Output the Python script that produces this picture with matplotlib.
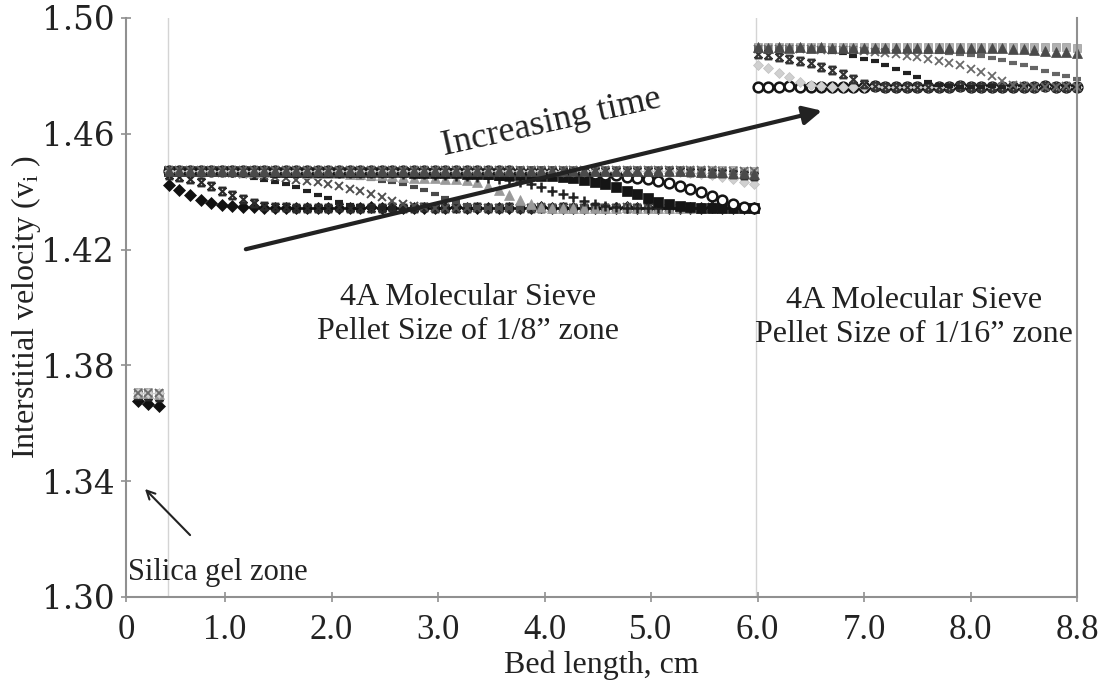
import matplotlib
matplotlib.use("Agg")
import matplotlib.pyplot as plt
from matplotlib.path import Path

# bed positions (axis units; the "8.8" tick sits at 9)
x_sg = [0.18, 0.28, 0.38]
x_z8 = [0.47, 0.57, 0.67, 0.77, 0.87, 0.97, 1.07, 1.17,
        1.27, 1.37, 1.47, 1.57, 1.67, 1.77, 1.87, 1.97,
        2.07, 2.17, 2.27, 2.37, 2.47, 2.57, 2.67, 2.77,
        2.87, 2.97, 3.07, 3.17, 3.27, 3.37, 3.47, 3.57,
        3.67, 3.77, 3.87, 3.97, 4.07, 4.17, 4.27, 4.37,
        4.47, 4.57, 4.67, 4.77, 4.87, 4.97, 5.07, 5.17,
        5.27, 5.37, 5.47, 5.57, 5.67, 5.77, 5.87, 5.97]
x_z16 = [6.0, 6.1, 6.2, 6.3, 6.4, 6.5, 6.6, 6.7,
         6.8, 6.9, 7.0, 7.1, 7.2, 7.3, 7.4, 7.5,
         7.6, 7.7, 7.8, 7.9, 8.0, 8.1, 8.2, 8.3,
         8.4, 8.5, 8.6, 8.7, 8.8, 8.9, 9.0]

xtick_pos = [0.07, 1, 2, 3, 4, 5, 6, 7, 8, 9]
xtick_labels = ["0", "1.0", "2.0", "3.0", "4.0", "5.0", "6.0", "7.0", "8.0", "8.8"]
yticks = [1.30, 1.34, 1.38, 1.42, 1.46, 1.50]
zone_edges = [0.46, 5.99]

# silica gel zone
dia_sg = [1.3678, 1.3667, 1.3660]
star1_sg = [1.3697, 1.3694, 1.3692]
tri1_sg = [1.3703, 1.3703, 1.3702]
dia2_sg = [1.3706, 1.3705, 1.3705]
xs2_sg = [1.3705, 1.3704, 1.3704]
sq2_sg = [1.3707, 1.3707, 1.3706]

# 1/8" zone
dia_z8 = [1.4423, 1.4406, 1.4389, 1.4373, 1.4360, 1.4353, 1.4349, 1.4347,
          1.4346, 1.4345, 1.4345, 1.4345, 1.4344, 1.4345, 1.4345, 1.4344,
          1.4345, 1.4344, 1.4345, 1.4346, 1.4345, 1.4344, 1.4345, 1.4345,
          1.4345, 1.4344, 1.4345, 1.4346, 1.4345, 1.4344, 1.4345, 1.4345,
          1.4345, 1.4344, 1.4345, 1.4346, 1.4345, 1.4344, 1.4345, 1.4345,
          1.4345, 1.4344, 1.4345, 1.4346, 1.4345, 1.4344, 1.4345, 1.4345,
          1.4345, 1.4344, 1.4345, 1.4346, 1.4345, 1.4344, 1.4345, 1.4345]
star1_z8 = [1.4458, 1.4452, 1.4443, 1.4432, 1.4420, 1.4404, 1.4389, 1.4374,
            1.4360, 1.4351, 1.4347, 1.4346, 1.4345, 1.4345, 1.4344, 1.4345,
            1.4346, 1.4345, 1.4344, 1.4345, 1.4345, 1.4346, 1.4345, 1.4344,
            1.4346, 1.4345, 1.4344, 1.4345, 1.4345, 1.4346, 1.4345, 1.4344,
            1.4346, 1.4345, 1.4344, 1.4345, 1.4345, 1.4346, 1.4345, 1.4344,
            1.4346, 1.4345, 1.4344, 1.4345, 1.4345, 1.4346, 1.4345, 1.4344,
            1.4346, 1.4345, 1.4344, 1.4345, 1.4345, 1.4346, 1.4345, 1.4344]
dash1_z8 = [1.4468, 1.4467, 1.4466, 1.4464, 1.4462, 1.4460, 1.4457, 1.4453,
            1.4448, 1.4442, 1.4435, 1.4426, 1.4415, 1.4403, 1.4390, 1.4377,
            1.4365, 1.4355, 1.4349, 1.4346, 1.4345, 1.4345, 1.4344, 1.4345,
            1.4345, 1.4344, 1.4345, 1.4346, 1.4345, 1.4344, 1.4345, 1.4345,
            1.4345, 1.4344, 1.4345, 1.4346, 1.4345, 1.4344, 1.4345, 1.4345,
            1.4345, 1.4344, 1.4345, 1.4346, 1.4345, 1.4344, 1.4345, 1.4345,
            1.4345, 1.4344, 1.4345, 1.4346, 1.4345, 1.4344, 1.4345, 1.4345]
xs1_z8 = [1.4470, 1.4469, 1.4469, 1.4468, 1.4467, 1.4466, 1.4464, 1.4462,
          1.4459, 1.4454, 1.4450, 1.4446, 1.4442, 1.4437, 1.4432, 1.4426,
          1.4419, 1.4411, 1.4402, 1.4392, 1.4380, 1.4369, 1.4358, 1.4350,
          1.4346, 1.4345, 1.4345, 1.4344, 1.4345, 1.4345, 1.4344, 1.4345,
          1.4345, 1.4344, 1.4345, 1.4346, 1.4345, 1.4344, 1.4345, 1.4345,
          1.4345, 1.4344, 1.4345, 1.4346, 1.4345, 1.4344, 1.4345, 1.4345,
          1.4345, 1.4344, 1.4345, 1.4346, 1.4345, 1.4344, 1.4345, 1.4345]
dash2_z8 = [1.4471, 1.4470, 1.4470, 1.4469, 1.4469, 1.4468, 1.4468, 1.4467,
            1.4467, 1.4466, 1.4465, 1.4464, 1.4463, 1.4461, 1.4459, 1.4457,
            1.4454, 1.4451, 1.4447, 1.4443, 1.4438, 1.4432, 1.4425, 1.4416,
            1.4405, 1.4392, 1.4378, 1.4364, 1.4353, 1.4347, 1.4345, 1.4344,
            1.4345, 1.4344, 1.4345, 1.4346, 1.4345, 1.4344, 1.4345, 1.4345,
            1.4345, 1.4344, 1.4345, 1.4346, 1.4345, 1.4344, 1.4345, 1.4345,
            1.4345, 1.4344, 1.4345, 1.4346, 1.4345, 1.4344, 1.4345, 1.4345]
tri1_z8 = [1.4472, 1.4472, 1.4471, 1.4471, 1.4470, 1.4470, 1.4470, 1.4469,
           1.4469, 1.4468, 1.4468, 1.4467, 1.4467, 1.4466, 1.4465, 1.4464,
           1.4463, 1.4462, 1.4460, 1.4458, 1.4456, 1.4453, 1.4451, 1.4449,
           1.4447, 1.4446, 1.4445, 1.4443, 1.4440, 1.4432, 1.4420, 1.4405,
           1.4390, 1.4372, 1.4356, 1.4348, 1.4345, 1.4345, 1.4344, 1.4345,
           1.4345, 1.4344, 1.4345, 1.4346, 1.4345, 1.4344, 1.4345, 1.4345,
           1.4345, 1.4344, 1.4345, 1.4346, 1.4345, 1.4344, 1.4345, 1.4345]
plus1_z8 = [1.4471, 1.4471, 1.4471, 1.4470, 1.4470, 1.4470, 1.4469, 1.4469,
            1.4469, 1.4469, 1.4468, 1.4468, 1.4468, 1.4467, 1.4467, 1.4467,
            1.4466, 1.4466, 1.4465, 1.4465, 1.4464, 1.4463, 1.4462, 1.4461,
            1.4460, 1.4459, 1.4457, 1.4455, 1.4453, 1.4451, 1.4448, 1.4445,
            1.4441, 1.4434, 1.4425, 1.4415, 1.4404, 1.4392, 1.4380, 1.4368,
            1.4357, 1.4350, 1.4346, 1.4345, 1.4344, 1.4345, 1.4345, 1.4344,
            1.4345, 1.4344, 1.4345, 1.4346, 1.4345, 1.4344, 1.4345, 1.4345]
sq_z8 = [1.4471, 1.4470, 1.4471, 1.4470, 1.4471, 1.4470, 1.4471, 1.4470,
         1.4470, 1.4470, 1.4469, 1.4469, 1.4469, 1.4469, 1.4468, 1.4468,
         1.4468, 1.4468, 1.4468, 1.4467, 1.4467, 1.4467, 1.4467, 1.4466,
         1.4466, 1.4465, 1.4464, 1.4463, 1.4462, 1.4461, 1.4460, 1.4459,
         1.4458, 1.4457, 1.4456, 1.4455, 1.4453, 1.4450, 1.4446, 1.4441,
         1.4434, 1.4426, 1.4416, 1.4404, 1.4391, 1.4378, 1.4366, 1.4356,
         1.4349, 1.4346, 1.4345, 1.4344, 1.4345, 1.4345, 1.4344, 1.4345]
circ_z8 = [1.4472, 1.4471, 1.4472, 1.4471, 1.4472, 1.4471, 1.4472, 1.4471,
           1.4472, 1.4471, 1.4472, 1.4471, 1.4471, 1.4471, 1.4471, 1.4471,
           1.4471, 1.4471, 1.4470, 1.4471, 1.4470, 1.4471, 1.4470, 1.4470,
           1.4470, 1.4470, 1.4470, 1.4470, 1.4470, 1.4470, 1.4470, 1.4470,
           1.4470, 1.4469, 1.4469, 1.4468, 1.4467, 1.4466, 1.4465, 1.4463,
           1.4461, 1.4459, 1.4456, 1.4452, 1.4448, 1.4443, 1.4437, 1.4430,
           1.4421, 1.4410, 1.4398, 1.4385, 1.4370, 1.4356, 1.4348, 1.4345]
dia2_z8 = [1.4473, 1.4472, 1.4473, 1.4472, 1.4473, 1.4472, 1.4473, 1.4472,
           1.4473, 1.4472, 1.4473, 1.4472, 1.4473, 1.4472, 1.4473, 1.4472,
           1.4473, 1.4472, 1.4473, 1.4472, 1.4473, 1.4472, 1.4473, 1.4472,
           1.4473, 1.4472, 1.4473, 1.4472, 1.4473, 1.4472, 1.4473, 1.4472,
           1.4473, 1.4472, 1.4473, 1.4472, 1.4473, 1.4472, 1.4473, 1.4472,
           1.4473, 1.4472, 1.4473, 1.4472, 1.4473, 1.4472, 1.4472, 1.4471,
           1.4469, 1.4466, 1.4462, 1.4457, 1.4451, 1.4444, 1.4435, 1.4425]
star2_z8 = [1.4470, 1.4471, 1.4470, 1.4471, 1.4470, 1.4471, 1.4470, 1.4471,
            1.4470, 1.4471, 1.4470, 1.4471, 1.4470, 1.4471, 1.4470, 1.4471,
            1.4470, 1.4471, 1.4470, 1.4471, 1.4470, 1.4471, 1.4470, 1.4471,
            1.4470, 1.4471, 1.4470, 1.4471, 1.4470, 1.4471, 1.4470, 1.4471,
            1.4470, 1.4471, 1.4470, 1.4471, 1.4470, 1.4471, 1.4470, 1.4471,
            1.4470, 1.4471, 1.4470, 1.4471, 1.4470, 1.4471, 1.4470, 1.4471,
            1.4470, 1.4469, 1.4468, 1.4466, 1.4464, 1.4461, 1.4457, 1.4453]
xs2_z8 = [1.4474, 1.4475, 1.4474, 1.4475, 1.4474, 1.4475, 1.4474, 1.4475,
          1.4474, 1.4475, 1.4474, 1.4475, 1.4474, 1.4475, 1.4474, 1.4475,
          1.4474, 1.4475, 1.4474, 1.4475, 1.4474, 1.4475, 1.4474, 1.4475,
          1.4474, 1.4475, 1.4474, 1.4475, 1.4474, 1.4475, 1.4474, 1.4475,
          1.4474, 1.4475, 1.4474, 1.4475, 1.4474, 1.4475, 1.4474, 1.4475,
          1.4474, 1.4475, 1.4474, 1.4475, 1.4474, 1.4475, 1.4474, 1.4475,
          1.4474, 1.4475, 1.4474, 1.4474, 1.4473, 1.4473, 1.4472, 1.4471]
tri2_z8 = [1.4472, 1.4473, 1.4472, 1.4473, 1.4472, 1.4473, 1.4472, 1.4473,
           1.4472, 1.4473, 1.4472, 1.4473, 1.4472, 1.4473, 1.4472, 1.4473,
           1.4472, 1.4473, 1.4472, 1.4473, 1.4472, 1.4473, 1.4472, 1.4473,
           1.4472, 1.4473, 1.4472, 1.4473, 1.4472, 1.4473, 1.4472, 1.4473,
           1.4472, 1.4473, 1.4472, 1.4473, 1.4472, 1.4473, 1.4472, 1.4473,
           1.4472, 1.4473, 1.4472, 1.4473, 1.4472, 1.4473, 1.4472, 1.4472,
           1.4471, 1.4470, 1.4469, 1.4468, 1.4467, 1.4466, 1.4464, 1.4462]
sq2_z8 = [1.4476, 1.4476, 1.4475, 1.4476, 1.4476, 1.4475, 1.4476, 1.4476,
          1.4475, 1.4476, 1.4476, 1.4475, 1.4476, 1.4476, 1.4475, 1.4476,
          1.4476, 1.4475, 1.4476, 1.4476, 1.4475, 1.4476, 1.4476, 1.4475,
          1.4476, 1.4476, 1.4475, 1.4476, 1.4476, 1.4475, 1.4476, 1.4476,
          1.4475, 1.4476, 1.4476, 1.4475, 1.4476, 1.4476, 1.4475, 1.4476,
          1.4476, 1.4475, 1.4476, 1.4476, 1.4475, 1.4476, 1.4476, 1.4475,
          1.4476, 1.4476, 1.4475, 1.4475, 1.4474, 1.4474, 1.4473, 1.4473]

# 1/16" zone
circ_z16 = [1.4763, 1.4762, 1.4763, 1.4764, 1.4763, 1.4762, 1.4763, 1.4763,
            1.4763, 1.4762, 1.4763, 1.4764, 1.4763, 1.4762, 1.4763, 1.4763,
            1.4763, 1.4762, 1.4763, 1.4764, 1.4763, 1.4762, 1.4763, 1.4763,
            1.4763, 1.4762, 1.4763, 1.4764, 1.4763, 1.4762, 1.4763]
dia2_z16 = [1.4838, 1.4827, 1.4810, 1.4796, 1.4779, 1.4768, 1.4764, 1.4763,
            1.4763, 1.4762, 1.4763, 1.4764, 1.4763, 1.4762, 1.4763, 1.4763,
            1.4763, 1.4762, 1.4763, 1.4764, 1.4763, 1.4762, 1.4763, 1.4763,
            1.4763, 1.4762, 1.4763, 1.4764, 1.4763, 1.4762, 1.4763]
star2_z16 = [1.4876, 1.4872, 1.4866, 1.4860, 1.4852, 1.4843, 1.4832, 1.4819,
             1.4805, 1.4788, 1.4772, 1.4765, 1.4763, 1.4762, 1.4763, 1.4763,
             1.4763, 1.4762, 1.4763, 1.4764, 1.4763, 1.4762, 1.4763, 1.4763,
             1.4763, 1.4762, 1.4763, 1.4764, 1.4763, 1.4762, 1.4763]
dash3_z16 = [1.4893, 1.4892, 1.4891, 1.4890, 1.4889, 1.4887, 1.4885, 1.4882,
             1.4878, 1.4870, 1.4860, 1.4850, 1.4838, 1.4825, 1.4810, 1.4795,
             1.4780, 1.4768, 1.4764, 1.4763, 1.4762, 1.4763, 1.4764, 1.4763,
             1.4763, 1.4762, 1.4763, 1.4764, 1.4763, 1.4762, 1.4763]
xs2_z16 = [1.4894, 1.4894, 1.4893, 1.4893, 1.4892, 1.4892, 1.4891, 1.4890,
           1.4889, 1.4888, 1.4886, 1.4883, 1.4879, 1.4874, 1.4870, 1.4866,
           1.4860, 1.4853, 1.4845, 1.4836, 1.4825, 1.4812, 1.4798, 1.4783,
           1.4770, 1.4765, 1.4763, 1.4762, 1.4763, 1.4764, 1.4763]
dash4_z16 = [1.4895, 1.4895, 1.4894, 1.4894, 1.4893, 1.4893, 1.4892, 1.4892,
             1.4891, 1.4890, 1.4890, 1.4889, 1.4888, 1.4887, 1.4886, 1.4885,
             1.4883, 1.4881, 1.4878, 1.4875, 1.4872, 1.4868, 1.4862, 1.4855,
             1.4846, 1.4837, 1.4828, 1.4818, 1.4808, 1.4798, 1.4790]
tri2_z16 = [1.4899, 1.4898, 1.4899, 1.4898, 1.4899, 1.4898, 1.4899, 1.4898,
            1.4898, 1.4898, 1.4897, 1.4898, 1.4897, 1.4897, 1.4897, 1.4897,
            1.4896, 1.4897, 1.4896, 1.4896, 1.4896, 1.4896, 1.4895, 1.4895,
            1.4894, 1.4893, 1.4890, 1.4887, 1.4884, 1.4881, 1.4879]
sq2_z16 = [1.4901, 1.4901, 1.4900, 1.4901, 1.4901, 1.4900, 1.4901, 1.4901,
           1.4900, 1.4901, 1.4901, 1.4900, 1.4901, 1.4901, 1.4900, 1.4901,
           1.4901, 1.4900, 1.4901, 1.4901, 1.4900, 1.4901, 1.4901, 1.4900,
           1.4901, 1.4901, 1.4900, 1.4900, 1.4899, 1.4899, 1.4898]

# Excel-like "star" marker: an X closed by bars top and bottom
hourglass = Path([(-1, -1), (1, 1), (-1, 1), (1, -1), (-1, 1), (1, 1), (-1, -1), (1, -1)],
                 [Path.MOVETO, Path.LINETO] * 4)

styles = {
    "dia":   dict(marker="D", ms=6.5, mfc="#111111", mec="#111111", mew=0.5),
    "star1": dict(marker=hourglass, ms=5.5, mfc="none", mec="#2a2a2a", mew=1.6),
    "dash1": dict(marker="_", ms=6, mec="#222222", mew=3),
    "xs1":   dict(marker="x", ms=6, mec="#505050", mew=1.4),
    "dash2": dict(marker="_", ms=6, mec="#4a4a4a", mew=3),
    "tri1":  dict(marker="^", ms=7, mfc="#9a9a9a", mec="#9a9a9a", mew=0.5),
    "plus1": dict(marker="+", ms=7.5, mec="#222222", mew=1.8),
    "sq":    dict(marker="s", ms=6.5, mfc="#151515", mec="#151515", mew=0.5),
    "circ":  dict(marker="o", ms=7, mfc="white", mec="#151515", mew=1.8),
    "dia2":  dict(marker="D", ms=5, mfc="#d0d0d0", mec="#c0c0c0", mew=0.5),
    "star2": dict(marker=hourglass, ms=5.5, mfc="none", mec="#333333", mew=1.6),
    "dash3": dict(marker="_", ms=6, mec="#222222", mew=3),
    "xs2":   dict(marker="x", ms=6, mec="#6a6a6a", mew=1.3),
    "dash4": dict(marker="_", ms=6, mec="#666666", mew=3),
    "tri2":  dict(marker="^", ms=7, mfc="#4a4a4a", mec="#4a4a4a", mew=0.5),
    "sq2":   dict(marker="s", ms=5.5, mfc="#b0b0b0", mec="#9a9a9a", mew=0.5),
}

plots = [
    ("sq2", x_sg, sq2_sg), ("sq2", x_z8, sq2_z8), ("sq2", x_z16, sq2_z16),
    ("dia", x_sg, dia_sg), ("dia", x_z8, dia_z8),
    ("star1", x_sg, star1_sg), ("star1", x_z8, star1_z8),
    ("dash1", x_z8, dash1_z8),
    ("xs1", x_z8, xs1_z8),
    ("dash2", x_z8, dash2_z8),
    ("tri1", x_sg, tri1_sg), ("tri1", x_z8, tri1_z8),
    ("plus1", x_z8, plus1_z8),
    ("sq", x_z8, sq_z8),
    ("circ", x_z8, circ_z8), ("circ", x_z16, circ_z16),
    ("dia2", x_sg, dia2_sg), ("dia2", x_z8, dia2_z8), ("dia2", x_z16, dia2_z16),
    ("star2", x_z8, star2_z8), ("star2", x_z16, star2_z16),
    ("dash3", x_z16, dash3_z16),
    ("xs2", x_sg, xs2_sg), ("xs2", x_z8, xs2_z8), ("xs2", x_z16, xs2_z16),
    ("dash4", x_z16, dash4_z16),
    ("tri2", x_z8, tri2_z8), ("tri2", x_z16, tri2_z16),
]

plt.rcParams["font.family"] = "Liberation Serif"
plt.rcParams["mathtext.fontset"] = "custom"
plt.rcParams["mathtext.rm"] = "Liberation Serif"
plt.rcParams["mathtext.it"] = "Liberation Serif:italic"

fig = plt.figure(figsize=(11.14, 6.84), dpi=100)
ax = fig.add_axes([0.1131, 0.1272, 0.8537, 0.8465])

for xb in zone_edges:
    ax.axvline(xb, color="#d4d4d4", lw=1.0, zorder=0)

for name, xs, ys in plots:
    ax.plot(xs, ys, ls="none", clip_on=False, **styles[name])

ax.set_xlim(0.07, 9)
ax.set_ylim(1.30, 1.50)
ax.set_xticks(xtick_pos)
ax.set_xticklabels(xtick_labels)
ax.set_yticks(yticks)
ax.set_yticklabels(["%.2f" % v for v in yticks], fontfamily="DejaVu Serif")

for side in ["left", "bottom", "right"]:
    ax.spines[side].set_color("#909090")
    ax.spines[side].set_linewidth(1.5)
ax.spines["top"].set_visible(False)
ax.tick_params(axis="both", direction="inout", length=7, width=1.2, color="#909090",
               labelcolor="#222222")
ax.tick_params(axis="x", labelsize=25, pad=9)
ax.tick_params(axis="y", labelsize=23.5, pad=5)

ax.set_xlabel("Bed length, cm", fontsize=23, color="#222222", labelpad=2)
ax.set_ylabel("Interstitial velocity (v$_\\mathrm{i}$ )", fontsize=23, color="#222222")
ax.yaxis.set_label_coords(-0.087, 0.5)

ax.text(3.28, 1.3975, "4A Molecular Sieve\nPellet Size of 1/8\u201d zone", ha="center", va="center",
        fontsize=23, color="#222222", linespacing=1.25)
ax.text(7.47, 1.3965, "4A Molecular Sieve\nPellet Size of 1/16\u201d zone", ha="center", va="center",
        fontsize=23, color="#222222", linespacing=1.25)
ax.text(0.09, 1.3086, "Silica gel zone", ha="left", va="center", fontsize=22, color="#222222")
ax.text(4.07, 1.4638, "Increasing time", rotation=12.5, ha="center", va="center",
        fontsize=26, color="#222222", rotation_mode="anchor")

ax.annotate("", xy=(6.63, 1.4682), xytext=(1.17, 1.4199),
            arrowprops=dict(arrowstyle="-|>", color="#222222", lw=3, mutation_scale=28))
ax.annotate("", xy=(0.23, 1.3380), xytext=(0.69, 1.3207),
            arrowprops=dict(arrowstyle="->", color="#222222", lw=1.5, mutation_scale=15))

fig.savefig("out.png", dpi=100)
